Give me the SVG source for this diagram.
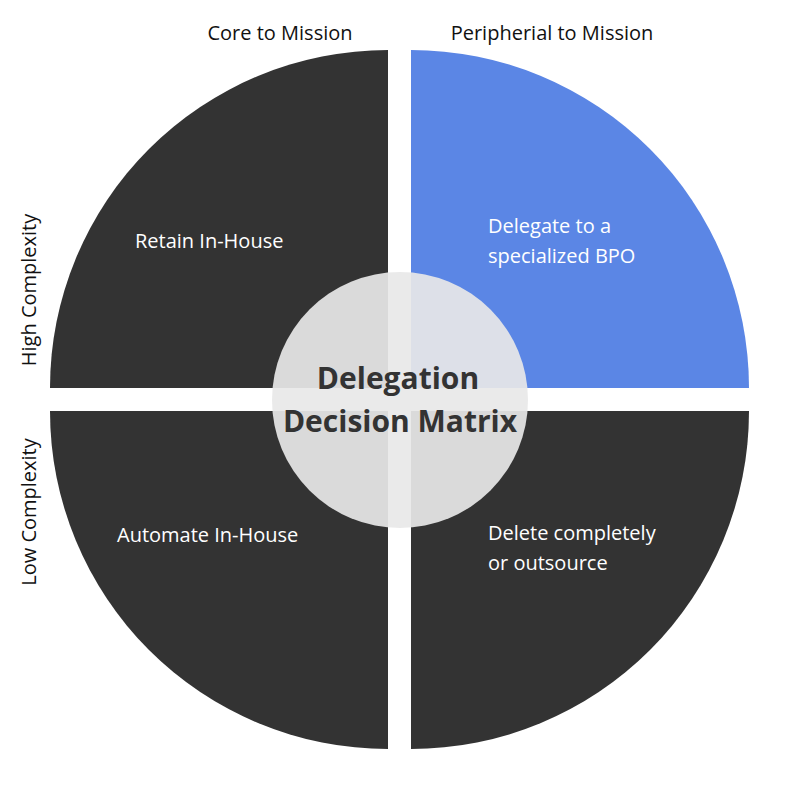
<svg xmlns="http://www.w3.org/2000/svg" width="800" height="800" viewBox="0 0 800 800">
<style>
.q{fill:#333333}
.l{font-family:"Open Sans",sans-serif;font-size:20px;fill:#ffffff}
.h{font-family:"Open Sans",sans-serif;font-size:20px;fill:#111111}
.t{font-family:"Open Sans",sans-serif;font-size:30px;font-weight:bold;fill:#333333;text-anchor:middle}
</style>
<rect width="800" height="800" fill="#ffffff"/>
<g id="q-tl"><path class="q" d="M388,388 L50,388 A338,338 0 0 1 388,50 Z"/><text class="l" x="135" y="248">Retain In-House</text></g>
<g id="q-tr"><path fill="#5b86e5" d="M411,388 L411,50 A338,338 0 0 1 749,388 Z"/><text class="l" x="488" y="233">Delegate to a</text><text class="l" x="488" y="263">specialized BPO</text></g>
<g id="q-bl"><path class="q" d="M388,411 L50,411 A338,338 0 0 0 388,749 Z"/><text class="l" x="117" y="542">Automate In-House</text></g>
<g id="q-br"><path class="q" d="M411,411 L749,411 A338,338 0 0 1 411,749 Z"/><text class="l" x="488" y="540">Delete completely</text><text class="l" x="488" y="570">or outsource</text></g>
<g id="center"><circle cx="400" cy="400" r="128" fill="#e8e8e8" opacity="0.92"/><text class="t" x="398" y="389">Delegation</text><text class="t" x="400" y="432">Decision Matrix</text></g>
<g id="axis-labels">
<text class="h" x="280" y="40" text-anchor="middle">Core to Mission</text>
<text class="h" x="552" y="40" text-anchor="middle">Peripherial to Mission</text>
<text class="h" transform="translate(36,290) rotate(-90)" text-anchor="middle">High Complexity</text>
<text class="h" transform="translate(36,512) rotate(-90)" text-anchor="middle">Low Complexity</text>
</g>
<g id="connectors"/>
</svg>
